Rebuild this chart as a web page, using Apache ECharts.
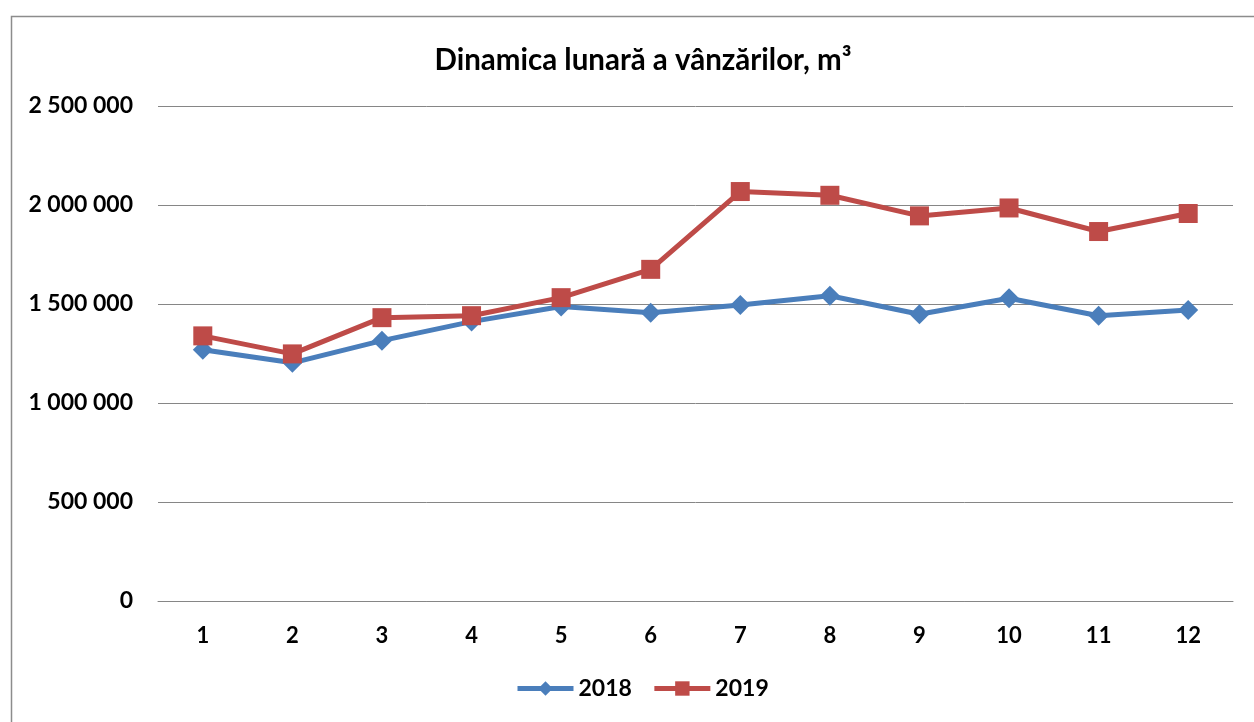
<!DOCTYPE html>
<html>
<head>
<meta charset="utf-8">
<script src="https://cdn.jsdelivr.net/npm/echarts@6/dist/echarts.min.js"></script>
<style>
html,body{margin:0;padding:0;background:#fff;}
#chart{width:1254px;height:722px;}
</style>
</head>
<body>
<div id="chart"></div>
<script>
const months = ['1','2','3','4','5','6','7','8','9','10','11','12'];
const sales2018 = [1269000, 1203000, 1315000, 1411000, 1487000, 1456000, 1495000, 1542000, 1448000, 1529000, 1441000, 1470000];
const sales2019 = [1339000, 1248000, 1431000, 1441000, 1532000, 1675000, 2068000, 2049000, 1945000, 1985000, 1866000, 1957000];
const seriesNames = ['2018', '2019'];
const titleText = 'Dinamica lunară a vânzărilor, m³';

const FONT = 'Lato, "Open Sans", sans-serif';
function fmt(v){ return String(v).replace(/\B(?=(\d{3})+(?!\d))/g, ' '); }

const chart = echarts.init(document.getElementById('chart'), null, {renderer:'canvas'});
chart.setOption({
  animation: false,
  backgroundColor: '#fff',
  graphic: [{
    type: 'rect', left: 9, top: 14,
    shape: {width: 1400, height: 900},
    style: {fill: 'none', stroke: '#8c8c8c', lineWidth: 1.5},
    silent: true
  }],
  title: {
    text: titleText,
    left: 638, top: 40, textAlign: 'center',
    textStyle: {fontFamily: FONT, fontWeight: 'bold', fontSize: 29.5, color: '#000'}
  },
  legend: {
    bottom: 17, left: 510,
    itemWidth: 56, itemHeight: 18, itemGap: 20,
    lineStyle: {width: 5},
    textStyle: {fontFamily: FONT, fontWeight: 'bold', fontSize: 23, color: '#000'},
    data: seriesNames
  },
  grid: {left: 158, right: 21, top: 106, bottom: 121, containLabel: false},
  xAxis: {
    type: 'category', data: months, boundaryGap: true,
    axisLine: {lineStyle: {color: '#868686', width: 1}},
    axisTick: {show: false},
    axisLabel: {fontFamily: FONT, fontWeight: 'bold', fontSize: 22, color: '#000', margin: 24}
  },
  yAxis: {
    type: 'value', min: 0, max: 2500000, interval: 500000,
    axisLine: {show: false}, axisTick: {show: false},
    splitLine: {lineStyle: {color: '#868686', width: 1}},
    axisLabel: {fontFamily: FONT, fontWeight: 'bold', fontSize: 23, color: '#000', margin: 25, formatter: fmt}
  },
  series: [
    {name: seriesNames[0], type: 'line', data: sales2018, symbol: 'diamond', symbolSize: 20,
     lineStyle: {color: '#4A7EBB', width: 5}, itemStyle: {color: '#4A7EBB'}},
    {name: seriesNames[1], type: 'line', data: sales2019, symbol: 'rect', symbolSize: 19,
     lineStyle: {color: '#BE4B48', width: 5}, itemStyle: {color: '#BE4B48'}}
  ]
});
</script>
</body>
</html>
